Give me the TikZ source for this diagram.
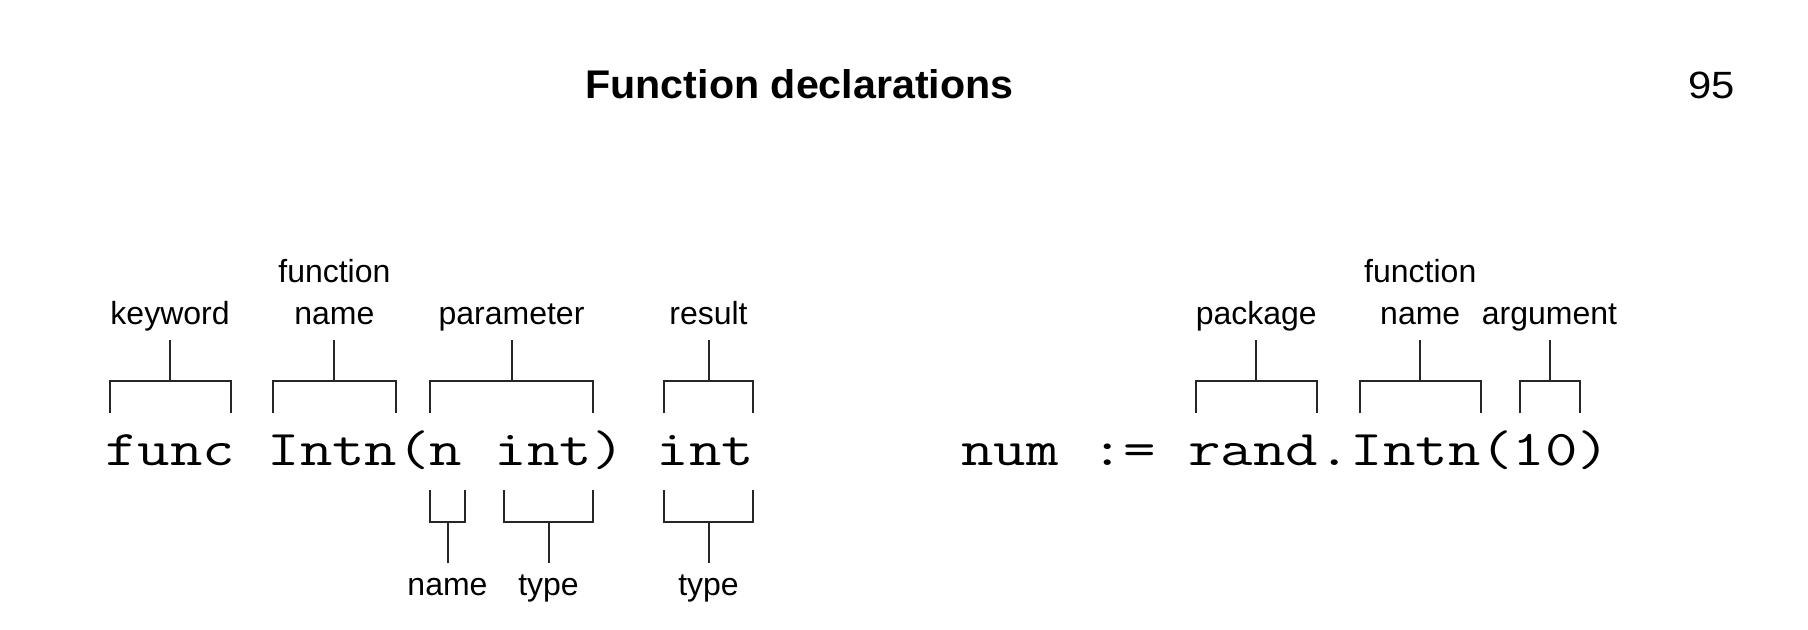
\documentclass[tikz,border=0pt]{standalone}
\usepackage{fontspec}
\usepackage{graphicx}
\newfontfamily\labfont{Liberation Sans}
\newcommand\topbr[4]{%
  \node[toplab] (#1) at ({(#2+#3)/2},340) {#4};
  \coordinate (#1L) at (#2,413.3);
  \coordinate (#1R) at (#3,413.3);
  \draw[brk] (#1L) |- (#1R |- topY) -- (#1R);
  \draw[brk] (#1.south) -- (#1.south |- topY);}
\newcommand\botbr[4]{%
  \node[botlab] (#1) at ({(#2+#3)/2},563.3) {#4};
  \coordinate (#1L) at (#2,490);
  \coordinate (#1R) at (#3,490);
  \draw[brk] (#1L) |- (#1R |- botY) -- (#1R);
  \draw[brk] (#1.north) -- (#1.north |- botY);}
\newcommand\twoline[2]{\begin{tabular}[b]{@{}c@{}}#1\\#2\end{tabular}}
\tikzset{
  brk/.style={line width=1pt, draw=black!85},
  toplab/.style={font=\labfont\fontsize{16}{20.85}\selectfont, inner sep=0pt, anchor=south, text depth=7.5pt},
  botlab/.style={font=\labfont\fontsize{16}{20.85}\selectfont, inner sep=0pt, anchor=north, text height=15.85pt},
  code/.style={font=\ttfamily\fontsize{25}{30}\selectfont, inner sep=0pt, anchor=base west},
}
\begin{document}
\begin{tikzpicture}[x=0.5pt,y=-0.5pt]
  \useasboundingbox (0,0) rectangle (1808,630);
  \coordinate (topY) at (0,381.3);
  \coordinate (botY) at (0,521.7);
  % header
  \node[font=\labfont\bfseries\fontsize{20}{24}\selectfont, anchor=base, inner sep=0pt] (title) at (799.5,98.5) {\scalebox{1.03}[1]{Function declarations}};
  \node[font=\labfont\fontsize{19}{23}\selectfont, anchor=base east, inner sep=0pt] (page) at (1735,99) {\scalebox{1.1}[1]{95}};
  % code lines
  \node[code] (c1) at (105,465) {\scalebox{1.26}[1]{func Intn(n int) int}};
  \node[code] (c2) at (961,465) {\scalebox{1.26}[1]{num := rand.Intn(10)}};
  % left diagram, brackets above
  \topbr{kw}{109.5}{230.6}{keyword}
  \topbr{fn}{273.3}{395.5}{\twoline{function}{name}}
  \topbr{par}{430}{593}{parameter}
  \topbr{res}{664}{753}{result}
  % left diagram, brackets below
  \botbr{pn}{430}{465}{name}
  \botbr{pt}{504}{593}{type}
  \botbr{rt}{664}{753}{type}
  % right diagram
  \topbr{pkg}{1195.5}{1317}{package}
  \topbr{fn2}{1359.5}{1481}{\twoline{function}{name}}
  \topbr{arg}{1519.5}{1579.5}{argument}
\end{tikzpicture}
\end{document}
